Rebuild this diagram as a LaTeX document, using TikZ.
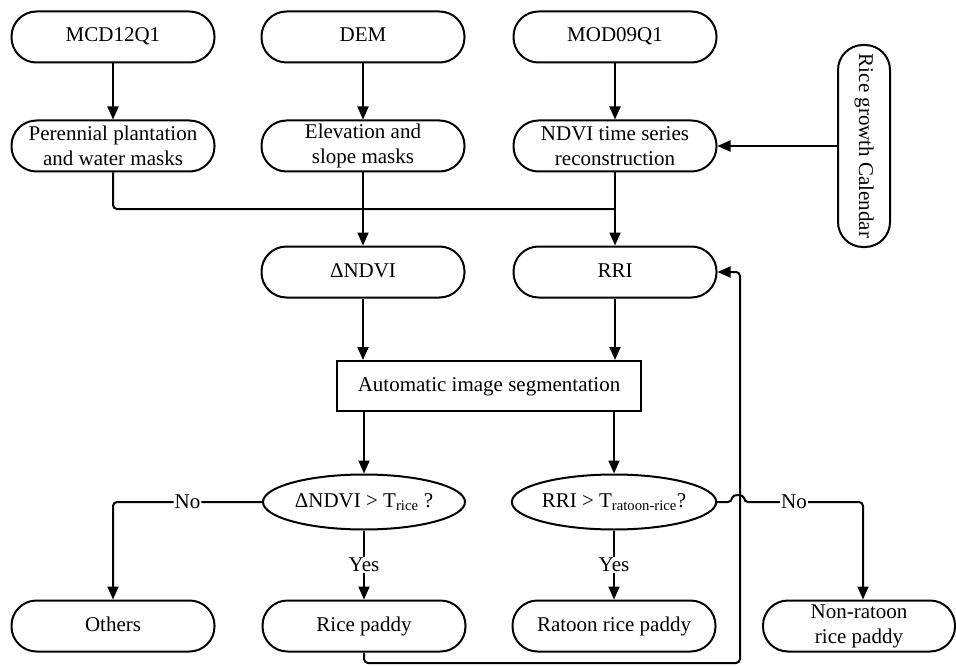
\documentclass[tikz,border=0pt]{standalone}
\usepackage{fontspec}
\setmainfont{Liberation Serif}
\usetikzlibrary{arrows.meta,shapes.geometric}

\tikzset{
  base/.style={draw, line width=2pt, align=center, inner sep=2pt,
    font=\fontsize{21}{25}\selectfont},
  pill/.style={base, rounded corners=25pt, minimum width=203pt, minimum height=51pt},
  oneline/.style={text height=14pt, text depth=4pt},
  boxnode/.style={base, oneline, rectangle, minimum width=304pt, minimum height=50pt},
  test/.style={base, oneline, ellipse, inner sep=0pt, minimum width=202pt, minimum height=55pt},
  link/.style={line width=2pt},
  arr/.style={link, -{Triangle[length=13pt,width=11pt]}},
  tag/.style={fill=white, inner sep=1pt, font=\fontsize{21}{25}\selectfont},
}

\begin{document}
\begin{tikzpicture}[x=1pt,y=-1pt]
\useasboundingbox (0,0) rectangle (956,666);

% data sources
\node[pill, oneline] (mcd) at (113,37) {MCD12Q1};
\node[pill, oneline] (dem) at (363,37) {DEM};
\node[pill, oneline] (mod) at (615,37) {MOD09Q1};

% preprocessing
\node[pill] (per)  at (113,146) {Perennial plantation\\and water masks};
\node[pill] (elev) at (363,146) {Elevation and\\slope masks};
\node[pill] (ndvi) at (615,146) {NDVI time series\\reconstruction};
\node[pill, oneline, rotate=-90, minimum width=202pt, minimum height=52pt] (cal) at (864,146) {Rice growth Calendar};

% indices
\node[pill, oneline] (dndvi) at (363,272) {ΔNDVI};
\node[pill, oneline] (rri)   at (615,272) {RRI};

% segmentation
\node[boxnode] (seg) at (489,386) {Automatic image segmentation};

% decisions
\node[test] (d1) at (364,502) {ΔNDVI > T\textsubscript{rice} ?};
\node[test] (d2) at (614,502) {RRI > T\textsubscript{ratoon-rice}?};

% results
\node[pill, oneline] (others) at (113,626) {Others};
\node[pill, oneline] (rice)   at (364,626) {Rice paddy};
\node[pill, oneline] (ratoon) at (614,626) {Ratoon rice paddy};
\node[pill, minimum width=192pt] (nonrat) at (859,626) {Non-ratoon\\rice paddy};

% helper points
\coordinate (j)  at (615,209);
\coordinate (fb) at (740,663);
\coordinate (nr) at (863,502);
\coordinate (j1) at (732,502);
\coordinate (j2) at (744,502);

% connectors
\draw[arr] (mcd) -- (per);
\draw[arr] (dem) -- (elev);
\draw[arr] (mod) -- (ndvi);
\draw[arr] (cal) -- (ndvi);

\draw[link, rounded corners=4pt] (per.south) |- (j);
\draw[arr] (elev) -- (dndvi);
\draw[arr] (ndvi) -- (rri);

\draw[arr] (dndvi) -- (dndvi |- seg.north);
\draw[arr] (rri) -- (rri |- seg.north);
\draw[arr] (seg.south -| d1.north) -- (d1.north);
\draw[arr] (seg.south -| d2.north) -- (d2.north);

\draw[arr] (d1) -- node[tag] {Yes} (rice);
\draw[arr] (d2) -- node[tag] {Yes} (ratoon);

\draw[arr, rounded corners=4pt] (d1.west) -| node[tag, pos=0.25] {No} (others.north);
\draw[arr, rounded corners=4pt] (d2.east) -- (j1)
  .. controls (732,494) and (744,494) .. (j2)
  -- node[tag, pos=0.42] {No} (nr) -- (nonrat.north -| nr);

\draw[arr, rounded corners=4pt] (rice.south) |- (fb) |- (rri.east);
\end{tikzpicture}
\end{document}
